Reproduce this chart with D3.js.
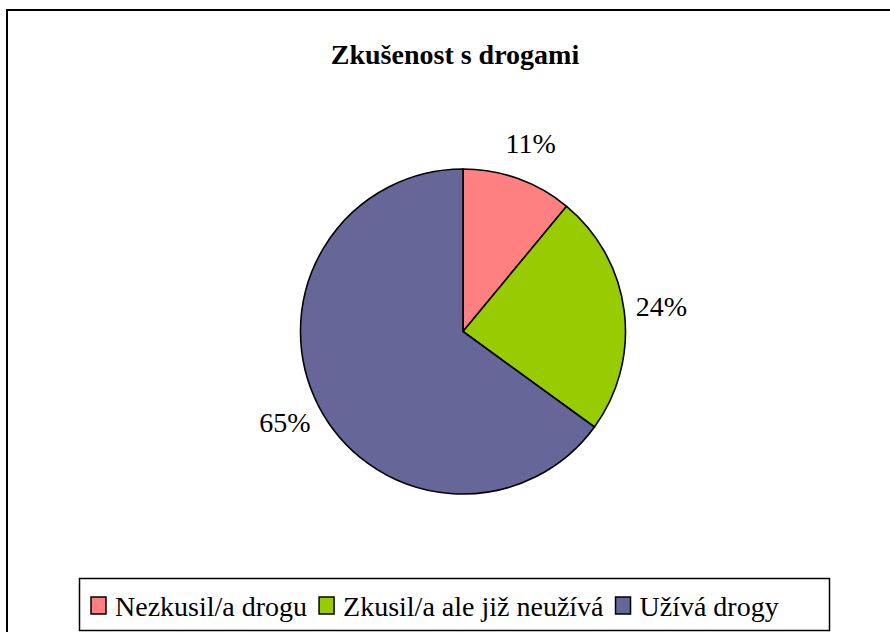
<!DOCTYPE html>
<html><head><meta charset="utf-8">
<script src="https://cdn.jsdelivr.net/npm/d3@7"></script>
</head><body>
<script>
const categories = ["Nezkusil/a drogu", "Zkusil/a ale již neužívá", "Užívá drogy"];
const values = [11, 24, 65];
const colors = ["#FF8080", "#99CC00", "#666699"];
const title = "Zkušenost s drogami";

d3.select("body").style("margin", "0px").style("background", "#fff");
const W = 890, H = 632;
const svg = d3.select("body").append("svg").attr("width", W).attr("height", H)
  .style("display", "block");
const F = '"Liberation Serif"';

// outer chart border
svg.append("rect").attr("x", 7).attr("y", 10).attr("width", 900).attr("height", 700)
  .attr("fill", "#fff").attr("stroke", "#000").attr("stroke-width", 2);

svg.append("text").attr("x", 455).attr("y", 64).attr("text-anchor", "middle")
  .style("font-family", F).style("font-weight", "bold").style("font-size", "28px")
  .text(title);

const cx = 463, cy = 331.5, r = 162.5;
const total = d3.sum(values);
const pie = d3.pie().sort(null).value(d => d)(values);
const arc = d3.arc().innerRadius(0).outerRadius(r);
const g = svg.append("g").attr("transform", `translate(${cx},${cy})`);
g.selectAll("path").data(pie).join("path")
  .attr("d", arc).attr("fill", (d, i) => colors[i])
  .attr("stroke", "#000").attr("stroke-width", 1.6).attr("stroke-linejoin", "round");

const labelArc = d3.arc().innerRadius(200).outerRadius(200);
pie.forEach(d => {
  const [lx, ly] = labelArc.centroid(d);
  g.append("text").attr("x", lx).attr("y", ly + 10)
    .attr("text-anchor", "middle")
    .style("font-family", F).style("font-size", "28px")
    .text(Math.round(d.value / total * 100) + "%");
});

// legend
const lg = svg.append("g");
lg.append("rect").attr("x", 79.5).attr("y", 578.5).attr("width", 750).attr("height", 52)
  .attr("fill", "#fff").attr("stroke", "#000").attr("stroke-width", 1.5);
let x = 91;
categories.forEach((c, i) => {
  lg.append("rect").attr("x", x).attr("y", 597).attr("width", 15).attr("height", 17)
    .attr("fill", colors[i]).attr("stroke", "#000").attr("stroke-width", 1.5);
  const t = lg.append("text").attr("x", x + 24).attr("y", 616)
    .style("font-family", F).style("font-size", "28px").text(c);
  x += 24 + t.node().getComputedTextLength() + 12;
});
</script>
</body></html>
